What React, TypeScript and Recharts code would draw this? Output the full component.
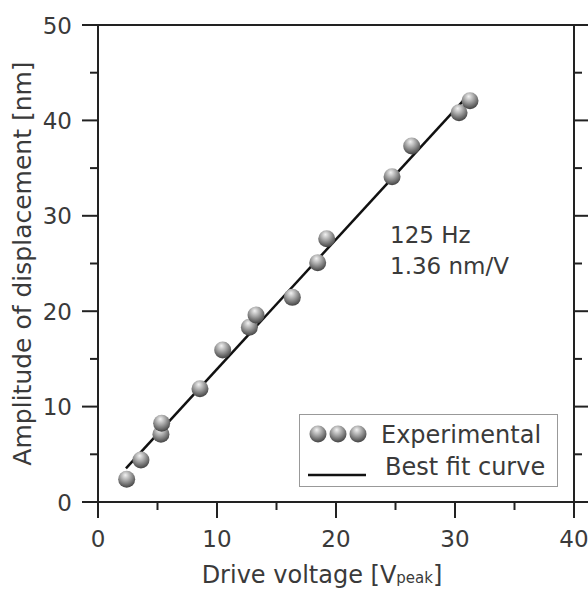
import React from 'react';
import { ScatterChart, Scatter, XAxis, YAxis, Legend, Customized } from 'recharts';

const experimentalX = [2.41, 3.61, 5.29, 5.35, 8.57, 10.48, 12.72, 13.28, 16.33, 18.46, 19.22, 24.71, 26.36, 30.34, 31.26];
const experimentalY = [2.38, 4.4, 7.09, 8.25, 11.88, 15.93, 18.31, 19.6, 21.45, 25.08, 27.6, 34.1, 37.32, 40.81, 42.07];
const fitX = [2.35, 30.7];
const fitY = [3.53, 42.08];
const xTicks = [0, 5, 10, 15, 20, 25, 30, 35, 40];
const yTicks = [0, 5, 10, 15, 20, 25, 30, 35, 40, 45, 50];
const annotationLines = ['125 Hz', '1.36 nm/V'];
const legendLabels = ['Experimental', 'Best fit curve'];

const experimental = experimentalX.map((x, i) => ({ x, y: experimentalY[i] }));
const fit = fitX.map((x, i) => ({ x, y: fitY[i] }));

const FONT = '"DejaVu Sans", sans-serif';
const TEXT = '#3a3a3a';
const AXIS = '#222';

const Ball = (props: any) => {
  const { cx, cy } = props;
  if (cx == null || cy == null) return null;
  return <circle cx={cx} cy={cy} r={8.5} fill="url(#ballGrad)" />;
};

const NoShape = () => null;

const BottomTick = (props: any) => {
  const { x, y, payload } = props;
  const major = payload.value % 10 === 0;
  return (
    <g>
      <line x1={x} y1={y} x2={x} y2={y + (major ? 16 : 8)} stroke={AXIS} strokeWidth={2} />
      {major && (
        <text x={x} y={y + 45} textAnchor="middle" fontFamily={FONT} fontSize={23} fill={TEXT}>
          {payload.value}
        </text>
      )}
    </g>
  );
};

const TopTick = (props: any) => {
  const { x, y, payload } = props;
  const major = payload.value % 10 === 0;
  return <line x1={x} y1={y} x2={x} y2={y - (major ? 15 : 8)} stroke={AXIS} strokeWidth={2} />;
};

const LeftTick = (props: any) => {
  const { x, y, payload } = props;
  const major = payload.value % 10 === 0;
  return (
    <g>
      <line x1={x} y1={y} x2={x - (major ? 16 : 8)} y2={y} stroke={AXIS} strokeWidth={2} />
      {major && (
        <text x={x - 26} y={y + 8.5} textAnchor="end" fontFamily={FONT} fontSize={23} fill={TEXT}>
          {payload.value}
        </text>
      )}
    </g>
  );
};

const RightTick = (props: any) => {
  const { x, y, payload } = props;
  const major = payload.value % 10 === 0;
  return <line x1={x} y1={y} x2={x + (major ? 14 : 8)} y2={y} stroke={AXIS} strokeWidth={2} />;
};

const XLabel = () => (
  <text x={322} y={583} textAnchor="middle" fontFamily={FONT} fontSize={24} fill={TEXT}>
    Drive voltage [V
    <tspan fontSize={15} dy={0}>peak</tspan>
    <tspan>]</tspan>
  </text>
);

const YLabel = (props: any) => {
  const vb = props.viewBox || { x: 0, y: 25, width: 98, height: 477 };
  const cx = vb.x + 31;
  const cy = vb.y + vb.height / 2;
  return (
    <text
      x={cx}
      y={cy}
      textAnchor="middle"
      transform={`rotate(-90, ${cx}, ${cy})`}
      fontFamily={FONT}
      fontSize={25}
      fill={TEXT}
    >
      Amplitude of displacement [nm]
    </text>
  );
};

const Annotation = () => (
  <g>
    {annotationLines.map((t, i) => (
      <text key={t} x={390} y={243 + i * 31} fontFamily={FONT} fontSize={23} fill={TEXT}>
        {t}
      </text>
    ))}
  </g>
);

const LegendContent = () => (
  <svg width={259} height={73} style={{ display: 'block' }}>
    <rect x={0.5} y={0.5} width={258} height={72} fill="#fff" stroke="#999" strokeWidth={1} />
    {[19, 39, 59].map((cx) => (
      <circle key={cx} cx={cx} cy={20} r={8.5} fill="url(#ballGrad)" />
    ))}
    <text x={82} y={29} fontFamily={FONT} fontSize={24} fill={TEXT}>
      {legendLabels[0]}
    </text>
    <line x1={9} y1={61} x2={67} y2={61} stroke="#111" strokeWidth={2.5} />
    <text x={86} y={61} fontFamily={FONT} fontSize={24} fill={TEXT}>
      {legendLabels[1]}
    </text>
  </svg>
);

export default function App() {
  return (
    <div style={{ position: 'absolute', left: 0, top: 0, width: 588, height: 589, background: '#fff' }}>
      <svg width={0} height={0} style={{ position: 'absolute' }}>
        <defs>
          <radialGradient id="ballGrad" cx="45%" cy="32%" r="65%" fx="42%" fy="25%">
            <stop offset="0%" stopColor="#f2f2f2" />
            <stop offset="45%" stopColor="#a8a8a8" />
            <stop offset="100%" stopColor="#4a4a4a" />
          </radialGradient>
        </defs>
      </svg>
      <ScatterChart width={588} height={589} margin={{ top: 0, right: 0, bottom: 0, left: 0 }}>
        <XAxis
          xAxisId="bottom"
          dataKey="x"
          type="number"
          orientation="bottom"
          domain={[0, 40]}
          allowDataOverflow
          ticks={xTicks}
          interval={0}
          height={87}
          tickSize={0}
          tickMargin={0}
          tickLine={false}
          axisLine={{ stroke: AXIS, strokeWidth: 2 }}
          tick={<BottomTick />}
        />
        <XAxis
          xAxisId="top"
          type="number"
          orientation="top"
          domain={[0, 40]}
          allowDataOverflow
          ticks={xTicks}
          interval={0}
          height={25}
          tickSize={0}
          tickMargin={0}
          tickLine={false}
          axisLine={{ stroke: AXIS, strokeWidth: 2 }}
          tick={<TopTick />}
        />
        <YAxis
          yAxisId="left"
          dataKey="y"
          type="number"
          orientation="left"
          domain={[0, 50]}
          allowDataOverflow
          ticks={yTicks}
          interval={0}
          width={98}
          tickSize={0}
          tickMargin={0}
          tickLine={false}
          axisLine={{ stroke: AXIS, strokeWidth: 2 }}
          tick={<LeftTick />}
          label={<YLabel />}
        />
        <YAxis
          yAxisId="right"
          type="number"
          orientation="right"
          domain={[0, 50]}
          allowDataOverflow
          ticks={yTicks}
          interval={0}
          width={14}
          tickSize={0}
          tickMargin={0}
          tickLine={false}
          axisLine={{ stroke: AXIS, strokeWidth: 2 }}
          tick={<RightTick />}
        />
        <Scatter
          name="Best fit curve"
          data={fit}
          xAxisId="bottom"
          yAxisId="left"
          line={{ stroke: '#111', strokeWidth: 2.5 }}
          lineType="joint"
          shape={<NoShape />}
          isAnimationActive={false}
        />
        <Scatter
          name="Experimental"
          data={experimental}
          xAxisId="bottom"
          yAxisId="left"
          shape={<Ball />}
          isAnimationActive={false}
        />
        <Customized component={<XLabel />} />
        <Customized component={<Annotation />} />
        <Legend
          layout="vertical"
          align="center"
          verticalAlign="middle"
          content={<LegendContent />}
          wrapperStyle={{ left: 299, top: 414, width: 259, height: 73 }}
        />
      </ScatterChart>
    </div>
  );
}
